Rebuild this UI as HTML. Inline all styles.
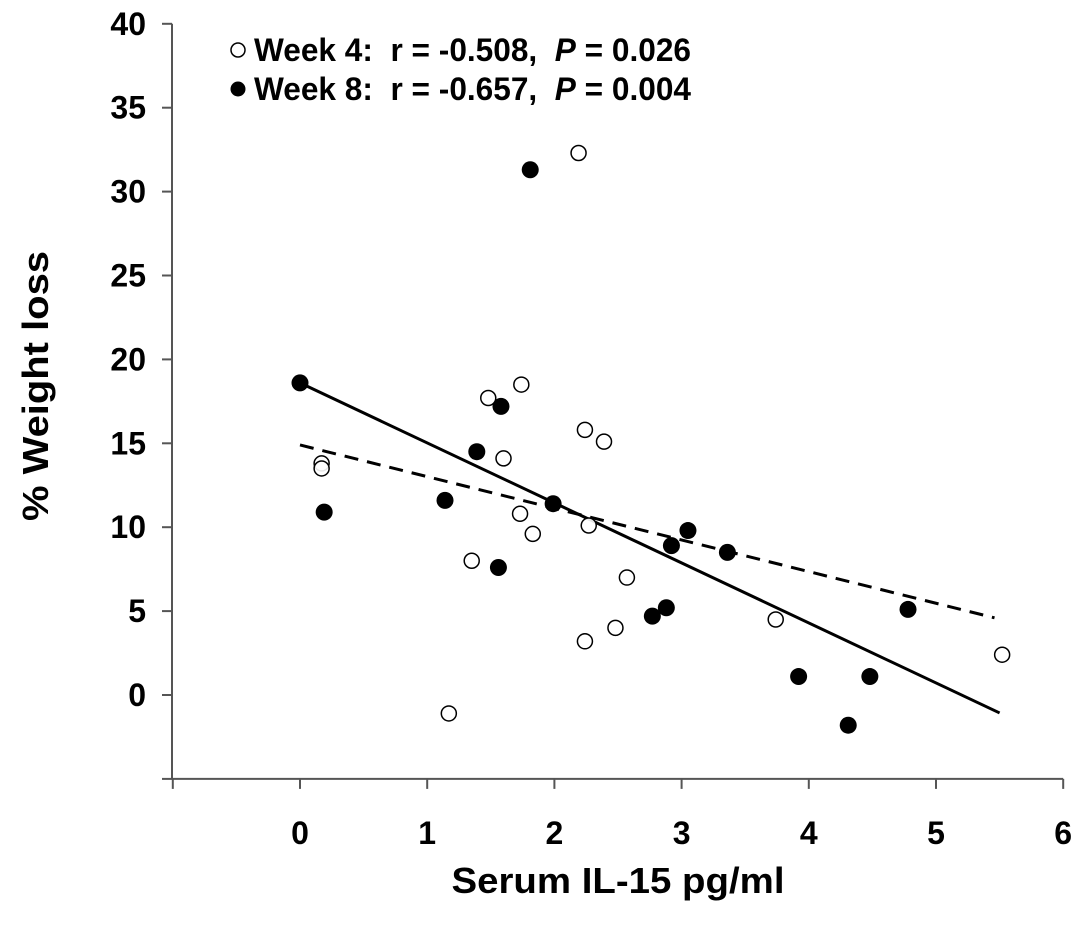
<!DOCTYPE html>
<html><head><meta charset="utf-8"><style>
html,body{margin:0;padding:0;background:#fff;}
svg{display:block;font-family:"Liberation Sans",Arial,sans-serif;font-weight:bold;}
.pre{white-space:pre;}
</style></head><body>
<svg id="chart" width="1087" height="940" viewBox="0 0 1087 940" xmlns="http://www.w3.org/2000/svg">
<g id="axes"></g>
<g id="lines"></g>
<g id="points"></g>
<g>
<circle cx="238" cy="50" r="7" fill="#fff" stroke="#000" stroke-width="1.5"/>
<text class="pre" x="254" y="61" font-size="32" textLength="437" lengthAdjust="spacingAndGlyphs">Week 4:  r = -0.508,  <tspan font-style="italic">P</tspan> = 0.026</text>
<circle cx="238" cy="89" r="7.5" fill="#000"/>
<text class="pre" x="254" y="100" font-size="32" textLength="437" lengthAdjust="spacingAndGlyphs">Week 8:  r = -0.657,  <tspan font-style="italic">P</tspan> = 0.004</text>
</g>
<text transform="translate(48,386) rotate(-90)" text-anchor="middle" font-size="36" textLength="270" lengthAdjust="spacingAndGlyphs">% Weight loss</text>
<text x="618" y="893" text-anchor="middle" font-size="36" textLength="333" lengthAdjust="spacingAndGlyphs">Serum IL-15 pg/ml</text>
</svg>
<script>
const xTicks=[0,1,2,3,4,5,6];
const yTicks=[0,5,10,15,20,25,30,35,40];
const week4X=[2.19,1.48,1.74,2.24,2.39,1.60,0.17,0.17,1.73,2.27,1.83,1.35,2.57,2.24,2.48,1.17,3.74,5.52];
const week4Y=[32.3,17.7,18.5,15.8,15.1,14.1,13.8,13.5,10.8,10.1,9.6,8.0,7.0,3.2,4.0,-1.1,4.5,2.4];
const week8X=[0,1.81,1.58,1.39,1.14,0.19,1.99,1.56,3.05,2.92,3.36,2.77,2.88,4.78,3.92,4.48,4.31];
const week8Y=[18.6,31.3,17.2,14.5,11.6,10.9,11.4,7.6,9.8,8.9,8.5,4.7,5.2,5.1,1.1,1.1,-1.8];
const fitWeek4=[0,14.9,5.46,4.6];
const fitWeek8=[0,18.6,5.5,-1.07];
const NS='http://www.w3.org/2000/svg';
const X=v=>300+v*127.2;
const Y=v=>695-v*16.78;
function mk(t,p,a){const e=document.createElementNS(NS,t);for(const k in a)e.setAttribute(k,a[k]);p.appendChild(e);return e;}
const ax=document.getElementById('axes');
let e=mk('line',ax,{x1:172,y1:Y(-5),x2:X(6),y2:Y(-5),stroke:'#555','stroke-width':2});


e=mk('line',ax,{x1:172,y1:Y(40),x2:172,y2:Y(-5),stroke:'#555','stroke-width':2});


[-5].concat(yTicks).forEach(v=>{
 e=mk('line',ax,{x1:162,y1:Y(v),x2:172,y2:Y(v),stroke:'#555','stroke-width':2});
 
 
});
yTicks.forEach(v=>{
 e=mk('text',ax,{x:146,y:Y(v)+11,'text-anchor':'end','font-size':32});
 e.textContent=v;
 
 
});
[-1].concat(xTicks).forEach(v=>{
 e=mk('line',ax,{x1:X(v),y1:Y(-5),x2:X(v),y2:Y(-5)+10,stroke:'#555','stroke-width':2});
 
 
});
xTicks.forEach(v=>{
 e=mk('text',ax,{x:X(v),y:844,'text-anchor':'middle','font-size':32});
 e.textContent=v;
 
 
});
const ln=document.getElementById('lines');
e=mk('line',ln,{x1:X(fitWeek4[0]),y1:Y(fitWeek4[1]),x2:X(fitWeek4[2]),y2:Y(fitWeek4[3]),stroke:'#000','stroke-width':3,'stroke-dasharray':'14,9'});


e=mk('line',ln,{x1:X(fitWeek8[0]),y1:Y(fitWeek8[1]),x2:X(fitWeek8[2]),y2:Y(fitWeek8[3]),stroke:'#000','stroke-width':3});


const pt=document.getElementById('points');
week8X.forEach((x,i)=>{
 e=mk('circle',pt,{cx:X(x),cy:Y(week8Y[i]),r:8.5,fill:'#000'});
 
 
});
week4X.forEach((x,i)=>{
 e=mk('circle',pt,{cx:X(x),cy:Y(week4Y[i]),r:7.5,fill:'#fff','fill-opacity':0.9,stroke:'#000','stroke-width':1.5});
 
 
});
</script>
</body></html>
